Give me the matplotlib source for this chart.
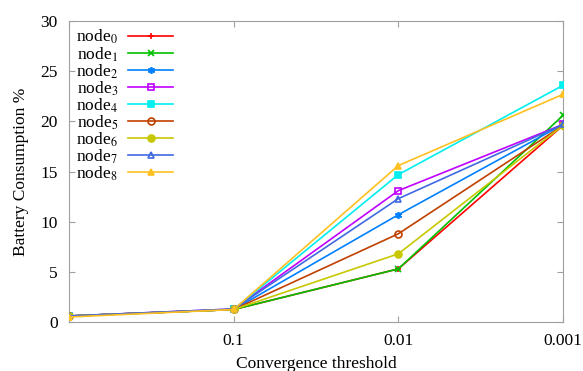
import matplotlib
matplotlib.use('Agg')
import matplotlib.pyplot as plt
import numpy as np

plt.rcParams['font.family'] = ['Liberation Serif', 'DejaVu Serif']
plt.rcParams['mathtext.fontset'] = 'stix'

# convergence thresholds on the x axis (first point has no label)
thresholds = ['', '0.1', '0.01', '0.001']

# battery consumption % per node
node0 = [0.6, 1.25, 5.3, 19.6]
node1 = [0.6, 1.25, 5.3, 20.6]
node2 = [0.6, 1.25, 10.7, 19.7]
node3 = [0.6, 1.3, 13.1, 19.7]
node4 = [0.6, 1.25, 14.7, 23.6]
node5 = [0.6, 1.25, 8.8, 19.6]
node6 = [0.6, 1.25, 6.8, 19.6]
node7 = [0.6, 1.3, 12.3, 19.7]
node8 = [0.5, 1.25, 15.6, 22.7]

series = [node0, node1, node2, node3, node4, node5, node6, node7, node8]
colors = ['#ff0000', '#00c000', '#0080ff', '#c000ff', '#00eeee',
          '#c04000', '#c8c800', '#4169e1', '#ffc020']
markers = ['+', 'x', (6, 2, 0), 's', 's', 'o', 'o', '^', '^']
filled = [True, True, True, False, True, False, True, False, True]

fig = plt.figure(figsize=(5.83, 3.71), dpi=100)
ax = fig.add_axes([0.1184, 0.132, 0.8473, 0.811])

x = np.arange(len(thresholds))
for i, vals in enumerate(series):
    c = colors[i]
    ax.plot(x, vals, color=c, lw=1.2, marker=markers[i], markersize=5,
            markeredgewidth=1.2, markeredgecolor=c,
            markerfacecolor=c if filled[i] else 'none',
            label='node$_{%d}$' % i, zorder=3 + i)

ax.set_xlim(0, 3)
ax.set_ylim(0, 30)
ax.set_xticks(x)
ax.set_xticklabels(thresholds)
ax.set_yticks(np.arange(0, 31, 5))
for s in ax.spines.values():
    s.set_color('#a0a0a0')
    s.set_linewidth(0.8)
ax.tick_params(direction='in', length=4, color='#a0a0a0', labelsize=12.5,
               top=True, right=True, pad=8)
ax.set_xlabel('Convergence threshold', fontsize=12.5, labelpad=5)
ax.set_ylabel('Battery Consumption %', fontsize=12.5, labelpad=8)

leg = ax.legend(loc='upper left', frameon=False, markerfirst=False,
                fontsize=12.5, handlelength=2.6, handletextpad=0.6,
                labelspacing=-0.08, borderaxespad=0.0,
                bbox_to_anchor=(0.0, 1.0))

fig.savefig('out.png', dpi=100)
